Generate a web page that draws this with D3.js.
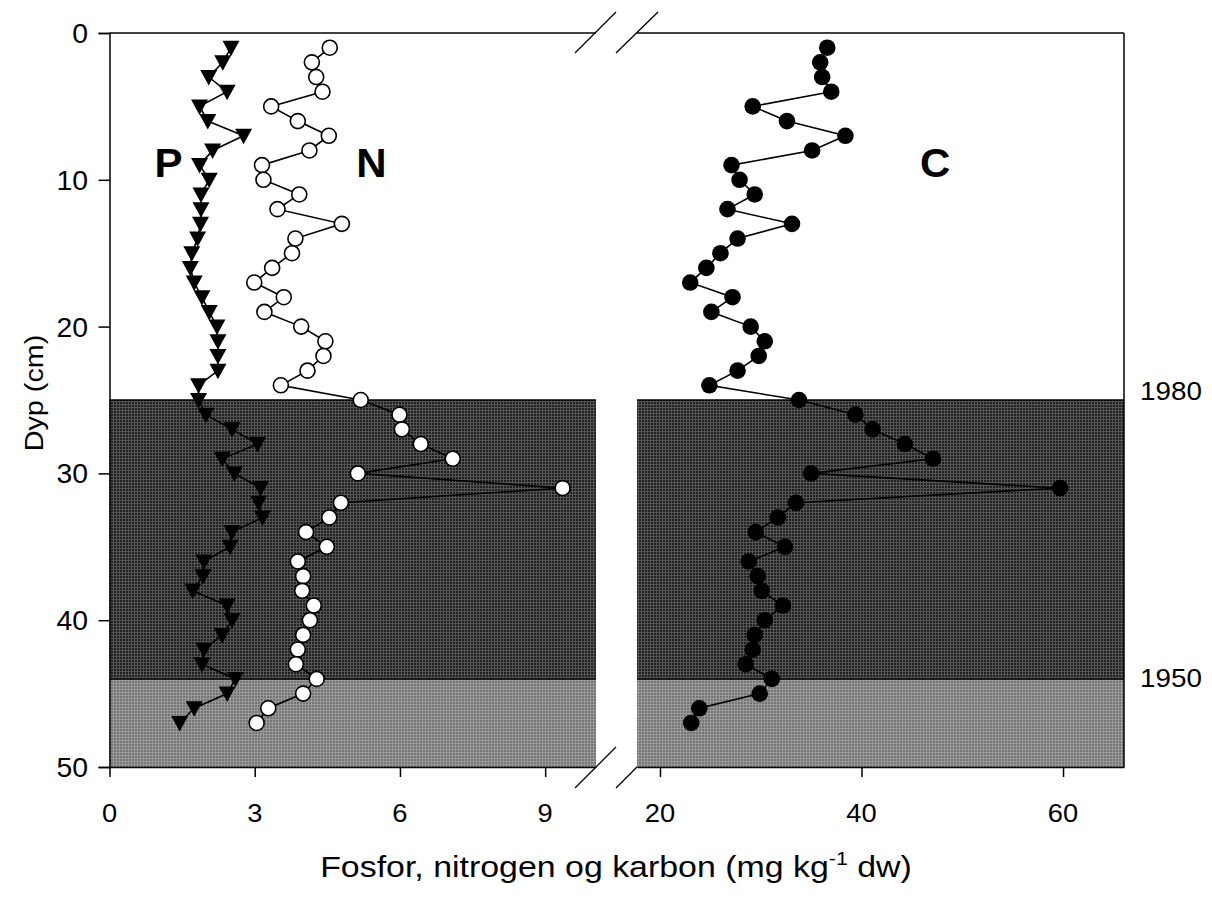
<!DOCTYPE html>
<html><head><meta charset="utf-8">
<script src="https://cdn.jsdelivr.net/npm/d3@7"></script>
<style>body{margin:0;background:#fff}svg{display:block}text{font-family:"Liberation Sans",Arial,sans-serif;fill:#000}</style>
</head><body><svg id="c" width="1212" height="899"></svg>
<script>
const depth = [1,2,3,4,5,6,7,8,9,10,11,12,13,14,15,16,17,18,19,20,21,22,23,24,25,26,27,28,29,30,31,32,33,34,35,36,37,38,39,40,41,42,43,44,45,46,47];
const fosfor = [2.51,2.34,2.05,2.43,1.86,2.03,2.77,2.13,1.86,2.06,1.89,1.89,1.88,1.82,1.70,1.67,1.75,1.91,2.06,2.22,2.24,2.24,2.24,1.84,1.84,1.99,2.53,3.06,2.33,2.58,3.12,3.08,3.16,2.53,2.49,1.95,1.93,1.72,2.43,2.53,2.33,1.95,1.91,2.60,2.43,1.75,1.45];
const nitrogen = [4.55,4.18,4.27,4.40,3.34,3.89,4.53,4.13,3.15,3.18,3.92,3.47,4.80,3.84,3.77,3.36,2.99,3.60,3.20,3.96,4.46,4.42,4.09,3.54,5.19,5.99,6.04,6.43,7.09,5.13,9.36,4.78,4.54,4.06,4.49,3.89,4.00,3.98,4.22,4.14,4.00,3.89,3.85,4.28,4.00,3.28,3.04];
const karbon = [36.6,35.9,36.1,37.0,29.2,32.6,38.4,35.1,27.1,27.9,29.4,26.7,33.1,27.7,26.0,24.6,23.0,27.2,25.1,29.0,30.4,29.8,27.7,24.9,33.8,39.4,41.1,44.3,47.1,35.0,59.7,33.5,31.7,29.5,32.4,28.8,29.7,30.1,32.2,30.4,29.4,29.2,28.5,31.1,29.9,23.9,23.1];
const leftTicks = [0,3,6,9];
const rightTicks = [20,40,60];
const yTicks = [0,10,20,30,40,50];
const bands = [{from:25,to:44,kind:"dark"},{from:44,to:50,kind:"light"}];
const yearLabels = [{depth:24.7,label:"1980"},{depth:44.3,label:"1950"}];
const seriesLabels = [{text:"P",panel:"L",x:1.22,d:9},{text:"N",panel:"L",x:5.41,d:9},{text:"C",panel:"R",x:47.3,d:9}];

const svg = d3.select("#c");
const yTop = 33, yBot = 767;
const L0 = 109.5, L1 = 596, R0 = 637, R1 = 1124;
const y = d3.scaleLinear().domain([0,50]).range([yTop,yBot]);
const xL = d3.scaleLinear().domain([0,10.05]).range([L0,L1]);
const xR = d3.scaleLinear().domain([17.72,66.05]).range([R0,R1]);

function label(x, yy, txt, size, anchor, sx, bold){
  const t = svg.append("text").attr("transform",`translate(${x},${yy}) scale(${sx||1},1)`)
    .attr("text-anchor",anchor||"start").attr("font-size",size);
  if (bold) t.attr("font-weight","bold");
  t.text(txt);
  return t;
}

const defs = svg.append("defs");
const pd = defs.append("pattern").attr("id","pd").attr("patternUnits","userSpaceOnUse").attr("width",3).attr("height",3);
pd.append("rect").attr("width",3).attr("height",3).attr("fill","#555555");
pd.append("rect").attr("width",2).attr("height",2).attr("fill","#202020");
const pl = defs.append("pattern").attr("id","pl").attr("patternUnits","userSpaceOnUse").attr("width",3).attr("height",3);
pl.append("rect").attr("width",3).attr("height",3).attr("fill","#9a9a9a");
pl.append("rect").attr("width",2).attr("height",2).attr("fill","#747474");

// break marks (bottom ones partly covered by shading)
const brk = svg.append("g").attr("stroke","#000").attr("stroke-width",1.3);
[[575,788,616,747],[616,788,658,746],[575,53,616,12],[616,53,658,12]].forEach(l=>{
  brk.append("line").attr("x1",l[0]).attr("y1",l[1]).attr("x2",l[2]).attr("y2",l[3]);
});

// bands
[[L0,L1],[R0,R1]].forEach(([a,b])=>{
  bands.forEach(bd=>{
    svg.append("rect").attr("x",a).attr("y",y(bd.from)).attr("width",b-a).attr("height",y(bd.to)-y(bd.from))
      .attr("fill", bd.kind==="dark"?"url(#pd)":"url(#pl)");
    svg.append("line").attr("x1",a).attr("x2",b).attr("y1",y(bd.from)).attr("y2",y(bd.from)).attr("stroke","#000").attr("stroke-width",1.5);
  });
});

// frame lines
const fr = svg.append("g").attr("stroke","#000").attr("stroke-width",1.5);
fr.append("line").attr("x1",L0).attr("x2",L1).attr("y1",yTop).attr("y2",yTop);
fr.append("line").attr("x1",R0).attr("x2",R1).attr("y1",yTop).attr("y2",yTop);
fr.append("line").attr("x1",R1).attr("x2",R1).attr("y1",yTop).attr("y2",yBot);

// axes (lines + ticks from d3, labels placed separately)
const yAx = svg.append("g").attr("transform",`translate(${L0},0)`)
  .call(d3.axisLeft(y).tickValues(yTicks).tickSize(11).tickFormat(""));
const xAxL = svg.append("g").attr("transform",`translate(0,${yBot})`)
  .call(d3.axisBottom(xL).tickValues(leftTicks).tickSize(10).tickSizeOuter(0).tickFormat(""));
const xAxR = svg.append("g").attr("transform",`translate(0,${yBot})`)
  .call(d3.axisBottom(xR).tickValues(rightTicks).tickSize(10).tickSizeOuter(0).tickFormat(""));
[yAx,xAxL,xAxR].forEach(g=>{
  g.select(".domain").attr("stroke-width",1.5);
  g.selectAll(".tick line").attr("stroke-width",1.5);
});
const fs = 27, fsx = 1.05;
yTicks.forEach(v=>label(88, y(v)+10, String(v), fs, "end", fsx));
leftTicks.forEach(v=>label(xL(v), 822, String(v), 26, "middle", fsx));
rightTicks.forEach(v=>label(xR(v), 822, String(v), 26, "middle", fsx));

// series lines
const line = (sx,vals)=>d3.line().x((d,i)=>sx(vals[i])).y(d=>y(d));
const gS = svg.append("g");
[[xL,fosfor],[xL,nitrogen],[xR,karbon]].forEach(([sx,v])=>{
  gS.append("path").datum(depth).attr("d",line(sx,v)).attr("fill","none").attr("stroke","#000").attr("stroke-width",1.6);
});
// markers
gS.selectAll(".tri").data(depth).join("path").attr("class","tri")
  .attr("d","M-8.5,-7 L8.5,-7 L0,8.5 Z").attr("fill","#000")
  .attr("transform",(d,i)=>`translate(${xL(fosfor[i])},${y(d)})`);
gS.selectAll(".nc").data(depth).join("circle").attr("class","nc")
  .attr("cx",(d,i)=>xL(nitrogen[i])).attr("cy",d=>y(d)).attr("r",7.5)
  .attr("fill","#fff").attr("stroke","#000").attr("stroke-width",1.6);
gS.selectAll(".cc").data(depth).join("circle").attr("class","cc")
  .attr("cx",(d,i)=>xR(karbon[i])).attr("cy",d=>y(d)).attr("r",8.3).attr("fill","#000");

// series labels
seriesLabels.forEach(s=>{
  const sx = s.panel==="L"?xL:xR;
  label(sx(s.x), 177, s.text, 40, "middle", 1.05, true);
});
// year labels
yearLabels.forEach(t=>label(1140, y(t.depth)+4, t.label, 26, "start", 1.07));

// axis titles
svg.append("text").attr("transform",`translate(43,393) rotate(-90) scale(1.15,1)`).attr("text-anchor","middle")
  .attr("font-size",25).text("Dyp (cm)");
const xt = svg.append("text").attr("transform",`translate(616,877) scale(1.13,1)`).attr("text-anchor","middle").attr("font-size",30);
xt.append("tspan").text("Fosfor, nitrogen og karbon (mg kg");
xt.append("tspan").attr("dy",-12).attr("font-size",19).text("-1");
xt.append("tspan").attr("dy",12).text(" dw)");
</script></body></html>
